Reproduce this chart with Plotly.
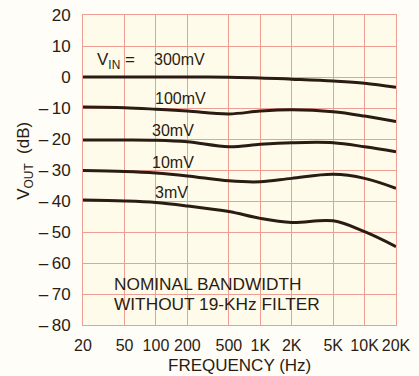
import math
import plotly.graph_objects as go

freq = [20, 50, 100, 200, 500, 1000, 2000, 5000, 10000, 20000]
freq_labels = ["20", "50", "100", "200", "500", "1K", "2K", "5K", "10K", "20K"]

v300 = [0.0, 0.0, 0.0, 0.0, -0.1, -0.3, -0.7, -1.3, -2.0, -3.3]
v100 = [-9.7, -9.9, -10.4, -11.0, -11.9, -11.0, -10.6, -11.2, -12.6, -14.4]
v30 = [-20.3, -20.3, -20.4, -20.9, -22.5, -21.7, -21.2, -21.2, -22.5, -24.1]
v10 = [-30.2, -30.5, -31.0, -31.9, -33.5, -33.8, -32.7, -31.4, -32.7, -35.9]
v3 = [-39.7, -40.0, -40.5, -41.6, -43.4, -45.6, -46.9, -46.4, -49.9, -54.7]

series = [v300, v100, v30, v10, v3]
series_names = ["300mV", "100mV", "30mV", "10mV", "3mV"]

y_ticks = [20, 10, 0, -10, -20, -30, -40, -50, -60, -70, -80]
y_labels = ["20", "10", "0", "\u2013\u200910", "\u2013\u200920", "\u2013\u200930", "\u2013\u200940",
            "\u2013\u200950", "\u2013\u200960", "\u2013\u200970", "\u2013\u200980"]

GRID = "#ee9e92"
INK = "#2a1c12"
SANS = "Liberation Sans, Arial, sans-serif"

fig = go.Figure()
for vals, name in zip(series, series_names):
    fig.add_trace(go.Scatter(
        x=freq, y=vals, mode="lines", name=name,
        line=dict(color=INK, width=3, shape="spline", smoothing=1.0),
        showlegend=False, hoverinfo="skip",
    ))

# curve labels (positioned in data coordinates)
label_pos = [(92, 5.8), (94, -6.8), (88, -17.2), (88, -27.6), (94, -37.1)]
for (fx, fy), name in zip(label_pos, series_names):
    fig.add_annotation(x=math.log10(fx), y=fy, text=name, showarrow=False,
                       xanchor="left", yanchor="middle",
                       font=dict(family=SANS, size=16, color=INK))

fig.add_annotation(x=math.log10(26), y=5.3, text="V<sub>IN</sub> =", showarrow=False,
                   xanchor="left", yanchor="middle",
                   font=dict(family=SANS, size=17, color=INK))

fig.add_annotation(x=math.log10(38.5), y=-66.9, text="NOMINAL BANDWIDTH", showarrow=False,
                   xanchor="left", yanchor="middle", borderpad=0,
                   font=dict(family=SANS, size=17.3, color=INK))
fig.add_annotation(x=math.log10(38.5), y=-73.1, text="WITHOUT 19-KHz FILTER", showarrow=False,
                   xanchor="left", yanchor="middle", borderpad=0,
                   font=dict(family=SANS, size=17.3, color=INK))

# axis titles
fig.add_annotation(xref="paper", yref="paper", x=-0.185, y=0.53,
                   text="V<sub>OUT</sub>  (dB)", textangle=-90, showarrow=False,
                   xanchor="center", yanchor="middle",
                   font=dict(family=SANS, size=17, color=INK))
fig.add_annotation(xref="paper", yref="paper", x=0.5, y=-0.13,
                   text="FREQUENCY (Hz)", showarrow=False,
                   xanchor="center", yanchor="middle",
                   font=dict(family=SANS, size=17, color=INK))

fig.update_xaxes(type="log", range=[math.log10(20), math.log10(20000)],
                 tickvals=freq, ticktext=freq_labels, tickangle=0,
                 showgrid=True, gridcolor=GRID, gridwidth=1,
                 showline=True, linecolor=GRID, linewidth=1, mirror=True,
                 zeroline=False, ticks="", ticklabelstandoff=6, automargin=False,
                 ticklabeloverflow="allow",
                 tickfont=dict(family=SANS, size=16, color=INK))
fig.update_yaxes(range=[-80, 20], tickvals=y_ticks, ticktext=y_labels,
                 showgrid=True, gridcolor=GRID, gridwidth=1,
                 showline=True, linecolor=GRID, linewidth=1, mirror=True,
                 zeroline=False, ticks="", ticklabelstandoff=8, automargin=False,
                 ticklabeloverflow="allow",
                 tickfont=dict(family=SANS, size=17, color=INK))

fig.update_layout(width=419, height=376,
                  margin=dict(l=83, r=23, t=15, b=51),
                  plot_bgcolor="#fffbea", paper_bgcolor="#fefdf7",
                  showlegend=False)

# remove the browser's default page margin so the figure fills the window exactly
fig.write_html("out.html",
               config={"displayModeBar": False, "staticPlot": True},
               post_script="document.body.style.margin='0';document.body.style.background='#fefdf7';")
